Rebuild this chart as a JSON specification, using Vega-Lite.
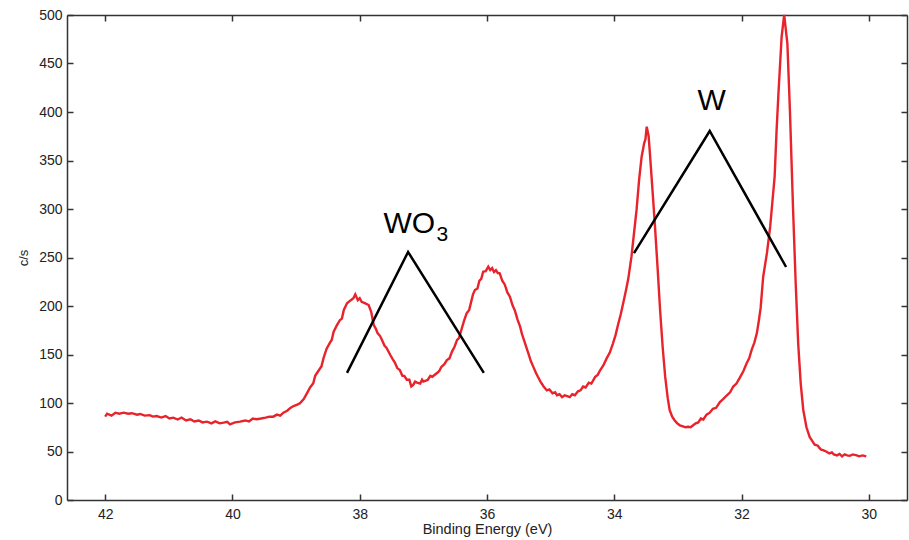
{
  "$schema": "https://vega.github.io/schema/vega-lite/v6.json",
  "width": 840,
  "height": 485,
  "autosize": {"type": "none"},
  "padding": {"left": 67, "top": 15, "right": 2, "bottom": 40},
  "background": "white",
  "config": {
    "view": {"stroke": null},
    "font": "Liberation Sans",
    "axis": {
      "grid": false,
      "domainColor": "#333333",
      "domainWidth": 1.5,
      "tickColor": "#333333",
      "tickWidth": 1.5,
      "tickSize": -6,
      "labelFont": "Liberation Sans",
      "labelFontSize": 14,
      "labelColor": "#222222",
      "titleFont": "Liberation Sans",
      "titleFontWeight": "normal",
      "titleColor": "#222222"
    }
  },
  "datasets": {
    "spectrum": [
      {"be": 42.0, "cps": 86}, {"be": 41.97, "cps": 89}, {"be": 41.9, "cps": 87}, {"be": 41.84, "cps": 90}, {"be": 41.78, "cps": 89},
      {"be": 41.71, "cps": 90}, {"be": 41.64, "cps": 89}, {"be": 41.58, "cps": 89.5}, {"be": 41.5, "cps": 88}, {"be": 41.45, "cps": 88.7},
      {"be": 41.38, "cps": 87}, {"be": 41.3, "cps": 87.5}, {"be": 41.25, "cps": 86}, {"be": 41.19, "cps": 86.6}, {"be": 41.12, "cps": 85},
      {"be": 41.05, "cps": 86.5}, {"be": 40.99, "cps": 84}, {"be": 40.93, "cps": 84.9}, {"be": 40.86, "cps": 83}, {"be": 40.8, "cps": 85},
      {"be": 40.73, "cps": 82}, {"be": 40.66, "cps": 83.2}, {"be": 40.6, "cps": 81}, {"be": 40.53, "cps": 82}, {"be": 40.47, "cps": 80},
      {"be": 40.4, "cps": 80.8}, {"be": 40.33, "cps": 79}, {"be": 40.27, "cps": 81}, {"be": 40.2, "cps": 79}, {"be": 40.14, "cps": 79.7},
      {"be": 40.08, "cps": 80.5}, {"be": 40.04, "cps": 78}, {"be": 39.96, "cps": 80}, {"be": 39.88, "cps": 80.8}, {"be": 39.8, "cps": 82},
      {"be": 39.74, "cps": 81}, {"be": 39.68, "cps": 84}, {"be": 39.62, "cps": 83.2}, {"be": 39.55, "cps": 84}, {"be": 39.48, "cps": 85},
      {"be": 39.42, "cps": 86}, {"be": 39.36, "cps": 85.9}, {"be": 39.3, "cps": 88}, {"be": 39.25, "cps": 87}, {"be": 39.2, "cps": 90},
      {"be": 39.14, "cps": 92}, {"be": 39.09, "cps": 95}, {"be": 39.04, "cps": 96.9}, {"be": 38.99, "cps": 98}, {"be": 38.94, "cps": 99.7},
      {"be": 38.88, "cps": 104}, {"be": 38.83, "cps": 110}, {"be": 38.78, "cps": 116}, {"be": 38.73, "cps": 120.3}, {"be": 38.7, "cps": 128},
      {"be": 38.64, "cps": 134}, {"be": 38.6, "cps": 138}, {"be": 38.57, "cps": 146}, {"be": 38.52, "cps": 156}, {"be": 38.47, "cps": 162},
      {"be": 38.44, "cps": 165}, {"be": 38.41, "cps": 173.5}, {"be": 38.36, "cps": 180}, {"be": 38.31, "cps": 185.6}, {"be": 38.28, "cps": 187},
      {"be": 38.25, "cps": 196}, {"be": 38.2, "cps": 202.8}, {"be": 38.14, "cps": 206}, {"be": 38.1, "cps": 208}, {"be": 38.07, "cps": 212},
      {"be": 38.03, "cps": 206}, {"be": 38.0, "cps": 208}, {"be": 37.97, "cps": 204.4}, {"be": 37.92, "cps": 203}, {"be": 37.86, "cps": 201},
      {"be": 37.82, "cps": 194}, {"be": 37.78, "cps": 180.4}, {"be": 37.75, "cps": 177}, {"be": 37.72, "cps": 172}, {"be": 37.68, "cps": 169},
      {"be": 37.65, "cps": 165}, {"be": 37.61, "cps": 159}, {"be": 37.58, "cps": 157}, {"be": 37.52, "cps": 149.5}, {"be": 37.48, "cps": 145},
      {"be": 37.45, "cps": 142}, {"be": 37.41, "cps": 136}, {"be": 37.37, "cps": 134}, {"be": 37.33, "cps": 128}, {"be": 37.3, "cps": 128},
      {"be": 37.26, "cps": 124}, {"be": 37.22, "cps": 124}, {"be": 37.19, "cps": 117}, {"be": 37.16, "cps": 118.6}, {"be": 37.13, "cps": 122},
      {"be": 37.1, "cps": 121}, {"be": 37.05, "cps": 120}, {"be": 37.02, "cps": 124}, {"be": 37.0, "cps": 122}, {"be": 36.96, "cps": 123},
      {"be": 36.93, "cps": 124}, {"be": 36.89, "cps": 128}, {"be": 36.86, "cps": 127}, {"be": 36.79, "cps": 130.6}, {"be": 36.75, "cps": 133},
      {"be": 36.72, "cps": 137}, {"be": 36.67, "cps": 140}, {"be": 36.63, "cps": 144.3}, {"be": 36.59, "cps": 146}, {"be": 36.55, "cps": 153},
      {"be": 36.51, "cps": 158}, {"be": 36.47, "cps": 165}, {"be": 36.44, "cps": 167}, {"be": 36.4, "cps": 176}, {"be": 36.36, "cps": 185},
      {"be": 36.32, "cps": 192.5}, {"be": 36.28, "cps": 196}, {"be": 36.25, "cps": 204}, {"be": 36.22, "cps": 212}, {"be": 36.19, "cps": 216.5},
      {"be": 36.15, "cps": 218}, {"be": 36.12, "cps": 226}, {"be": 36.09, "cps": 228}, {"be": 36.06, "cps": 235.4}, {"be": 36.02, "cps": 236},
      {"be": 35.98, "cps": 240.5}, {"be": 35.95, "cps": 237}, {"be": 35.92, "cps": 239}, {"be": 35.89, "cps": 235}, {"be": 35.86, "cps": 237},
      {"be": 35.83, "cps": 234}, {"be": 35.8, "cps": 233.7}, {"be": 35.76, "cps": 226}, {"be": 35.72, "cps": 222}, {"be": 35.68, "cps": 214},
      {"be": 35.64, "cps": 209.6}, {"be": 35.6, "cps": 201}, {"be": 35.56, "cps": 195}, {"be": 35.52, "cps": 186}, {"be": 35.48, "cps": 178.7},
      {"be": 35.45, "cps": 171}, {"be": 35.42, "cps": 165}, {"be": 35.38, "cps": 157}, {"be": 35.35, "cps": 151.2}, {"be": 35.31, "cps": 143},
      {"be": 35.27, "cps": 137}, {"be": 35.23, "cps": 131}, {"be": 35.2, "cps": 127}, {"be": 35.16, "cps": 122}, {"be": 35.11, "cps": 117},
      {"be": 35.06, "cps": 113}, {"be": 35.02, "cps": 114}, {"be": 34.97, "cps": 110}, {"be": 34.93, "cps": 111}, {"be": 34.9, "cps": 108},
      {"be": 34.86, "cps": 109}, {"be": 34.82, "cps": 106}, {"be": 34.78, "cps": 108}, {"be": 34.74, "cps": 107}, {"be": 34.7, "cps": 106},
      {"be": 34.66, "cps": 109}, {"be": 34.62, "cps": 108}, {"be": 34.57, "cps": 112}, {"be": 34.53, "cps": 113}, {"be": 34.49, "cps": 117},
      {"be": 34.45, "cps": 116}, {"be": 34.4, "cps": 121}, {"be": 34.36, "cps": 120}, {"be": 34.3, "cps": 127}, {"be": 34.26, "cps": 129},
      {"be": 34.22, "cps": 134}, {"be": 34.17, "cps": 139}, {"be": 34.12, "cps": 146}, {"be": 34.07, "cps": 152}, {"be": 34.02, "cps": 161.5},
      {"be": 33.98, "cps": 170}, {"be": 33.94, "cps": 181}, {"be": 33.9, "cps": 191}, {"be": 33.86, "cps": 202.8}, {"be": 33.82, "cps": 215},
      {"be": 33.78, "cps": 228}, {"be": 33.73, "cps": 250.8}, {"be": 33.69, "cps": 275}, {"be": 33.65, "cps": 299}, {"be": 33.61, "cps": 330},
      {"be": 33.57, "cps": 353.9}, {"be": 33.53, "cps": 368}, {"be": 33.51, "cps": 372}, {"be": 33.49, "cps": 384.9}, {"be": 33.46, "cps": 375},
      {"be": 33.44, "cps": 357.4}, {"be": 33.4, "cps": 320}, {"be": 33.36, "cps": 281.8}, {"be": 33.32, "cps": 240}, {"be": 33.28, "cps": 195.9},
      {"be": 33.24, "cps": 158}, {"be": 33.2, "cps": 127.1}, {"be": 33.16, "cps": 105}, {"be": 33.13, "cps": 92.8}, {"be": 33.09, "cps": 86},
      {"be": 33.05, "cps": 82}, {"be": 33.01, "cps": 79}, {"be": 32.97, "cps": 77}, {"be": 32.92, "cps": 76}, {"be": 32.88, "cps": 75},
      {"be": 32.84, "cps": 75.5}, {"be": 32.8, "cps": 75}, {"be": 32.76, "cps": 77}, {"be": 32.72, "cps": 79}, {"be": 32.68, "cps": 80},
      {"be": 32.64, "cps": 84}, {"be": 32.6, "cps": 83}, {"be": 32.55, "cps": 88}, {"be": 32.5, "cps": 90}, {"be": 32.45, "cps": 94},
      {"be": 32.4, "cps": 95}, {"be": 32.34, "cps": 101}, {"be": 32.29, "cps": 104}, {"be": 32.23, "cps": 108}, {"be": 32.18, "cps": 111},
      {"be": 32.13, "cps": 117}, {"be": 32.08, "cps": 120}, {"be": 32.02, "cps": 127}, {"be": 31.97, "cps": 133}, {"be": 31.92, "cps": 141},
      {"be": 31.88, "cps": 146}, {"be": 31.84, "cps": 155}, {"be": 31.8, "cps": 162}, {"be": 31.76, "cps": 171.8}, {"be": 31.73, "cps": 184},
      {"be": 31.7, "cps": 198}, {"be": 31.66, "cps": 230.2}, {"be": 31.6, "cps": 255}, {"be": 31.55, "cps": 281.8}, {"be": 31.48, "cps": 333.3},
      {"be": 31.45, "cps": 380}, {"be": 31.42, "cps": 419.3}, {"be": 31.37, "cps": 477.6}, {"be": 31.33, "cps": 500}, {"be": 31.28, "cps": 470.8},
      {"be": 31.24, "cps": 402}, {"be": 31.19, "cps": 299}, {"be": 31.15, "cps": 225}, {"be": 31.11, "cps": 161.5}, {"be": 31.07, "cps": 120},
      {"be": 31.03, "cps": 92.8}, {"be": 30.98, "cps": 75}, {"be": 30.93, "cps": 65}, {"be": 30.88, "cps": 60}, {"be": 30.85, "cps": 57},
      {"be": 30.8, "cps": 56}, {"be": 30.78, "cps": 54}, {"be": 30.75, "cps": 52}, {"be": 30.72, "cps": 51.5}, {"be": 30.67, "cps": 50},
      {"be": 30.62, "cps": 48}, {"be": 30.58, "cps": 49}, {"be": 30.55, "cps": 47}, {"be": 30.5, "cps": 46}, {"be": 30.46, "cps": 47.5},
      {"be": 30.42, "cps": 45}, {"be": 30.38, "cps": 47}, {"be": 30.34, "cps": 46}, {"be": 30.3, "cps": 45.5}, {"be": 30.25, "cps": 47},
      {"be": 30.19, "cps": 46}, {"be": 30.15, "cps": 45}, {"be": 30.1, "cps": 46}, {"be": 30.04, "cps": 45}
    ],
    "marks": [
      {"grp": "WO3", "i": 0, "be": 38.2, "cps": 131},
      {"grp": "WO3", "i": 1, "be": 37.24, "cps": 255.7},
      {"grp": "WO3", "i": 2, "be": 36.05, "cps": 131},
      {"grp": "W", "i": 0, "be": 33.69, "cps": 254.6},
      {"grp": "W", "i": 1, "be": 32.5, "cps": 380.4},
      {"grp": "W", "i": 2, "be": 31.3, "cps": 240.2}
    ],
    "labels": [
      {"txt": "WO", "be": 37.22, "cps": 275, "size": 30},
      {"txt": "3", "be": 36.7, "cps": 267, "size": 21},
      {"txt": "W", "be": 32.47, "cps": 402, "size": 30}
    ]
  },
  "layer": [
    {
      "data": {"name": "spectrum"},
      "mark": {"type": "line", "color": "#e8232b", "strokeWidth": 2.4},
      "encoding": {
        "x": {
          "field": "be", "type": "quantitative",
          "scale": {"domain": [29.4, 42.6], "reverse": true, "nice": false, "zero": false},
          "axis": {"orient": "bottom", "values": [30, 32, 34, 36, 38, 40, 42], "title": "Binding Energy (eV)", "titleFontSize": 14.5, "labelPadding": 13, "titlePadding": 1}
        },
        "y": {
          "field": "cps", "type": "quantitative",
          "scale": {"domain": [0, 500], "nice": false},
          "axis": {"orient": "left", "values": [0, 50, 100, 150, 200, 250, 300, 350, 400, 450, 500], "title": "c/s", "titleFontSize": 13, "labelPadding": 11, "titlePadding": 8}
        }
      }
    },
    {
      "data": {"name": "marks"},
      "mark": {"type": "line", "color": "black", "strokeWidth": 2.5},
      "encoding": {
        "x": {"field": "be", "type": "quantitative", "axis": {"orient": "top", "values": [30, 32, 34, 36, 38, 40, 42], "labels": false, "title": null}},
        "y": {"field": "cps", "type": "quantitative", "axis": {"orient": "right", "values": [0, 50, 100, 150, 200, 250, 300, 350, 400, 450, 500], "labels": false, "title": null}},
        "detail": {"field": "grp"},
        "order": {"field": "i"}
      }
    },
    {
      "data": {"name": "labels"},
      "mark": {"type": "text", "align": "center", "baseline": "alphabetic", "font": "Liberation Sans", "color": "black"},
      "encoding": {
        "x": {"field": "be", "type": "quantitative", "axis": null},
        "y": {"field": "cps", "type": "quantitative", "axis": null},
        "text": {"field": "txt"},
        "size": {"field": "size", "type": "quantitative", "scale": null}
      }
    }
  ],
  "resolve": {"axis": {"x": "independent", "y": "independent"}}
}
